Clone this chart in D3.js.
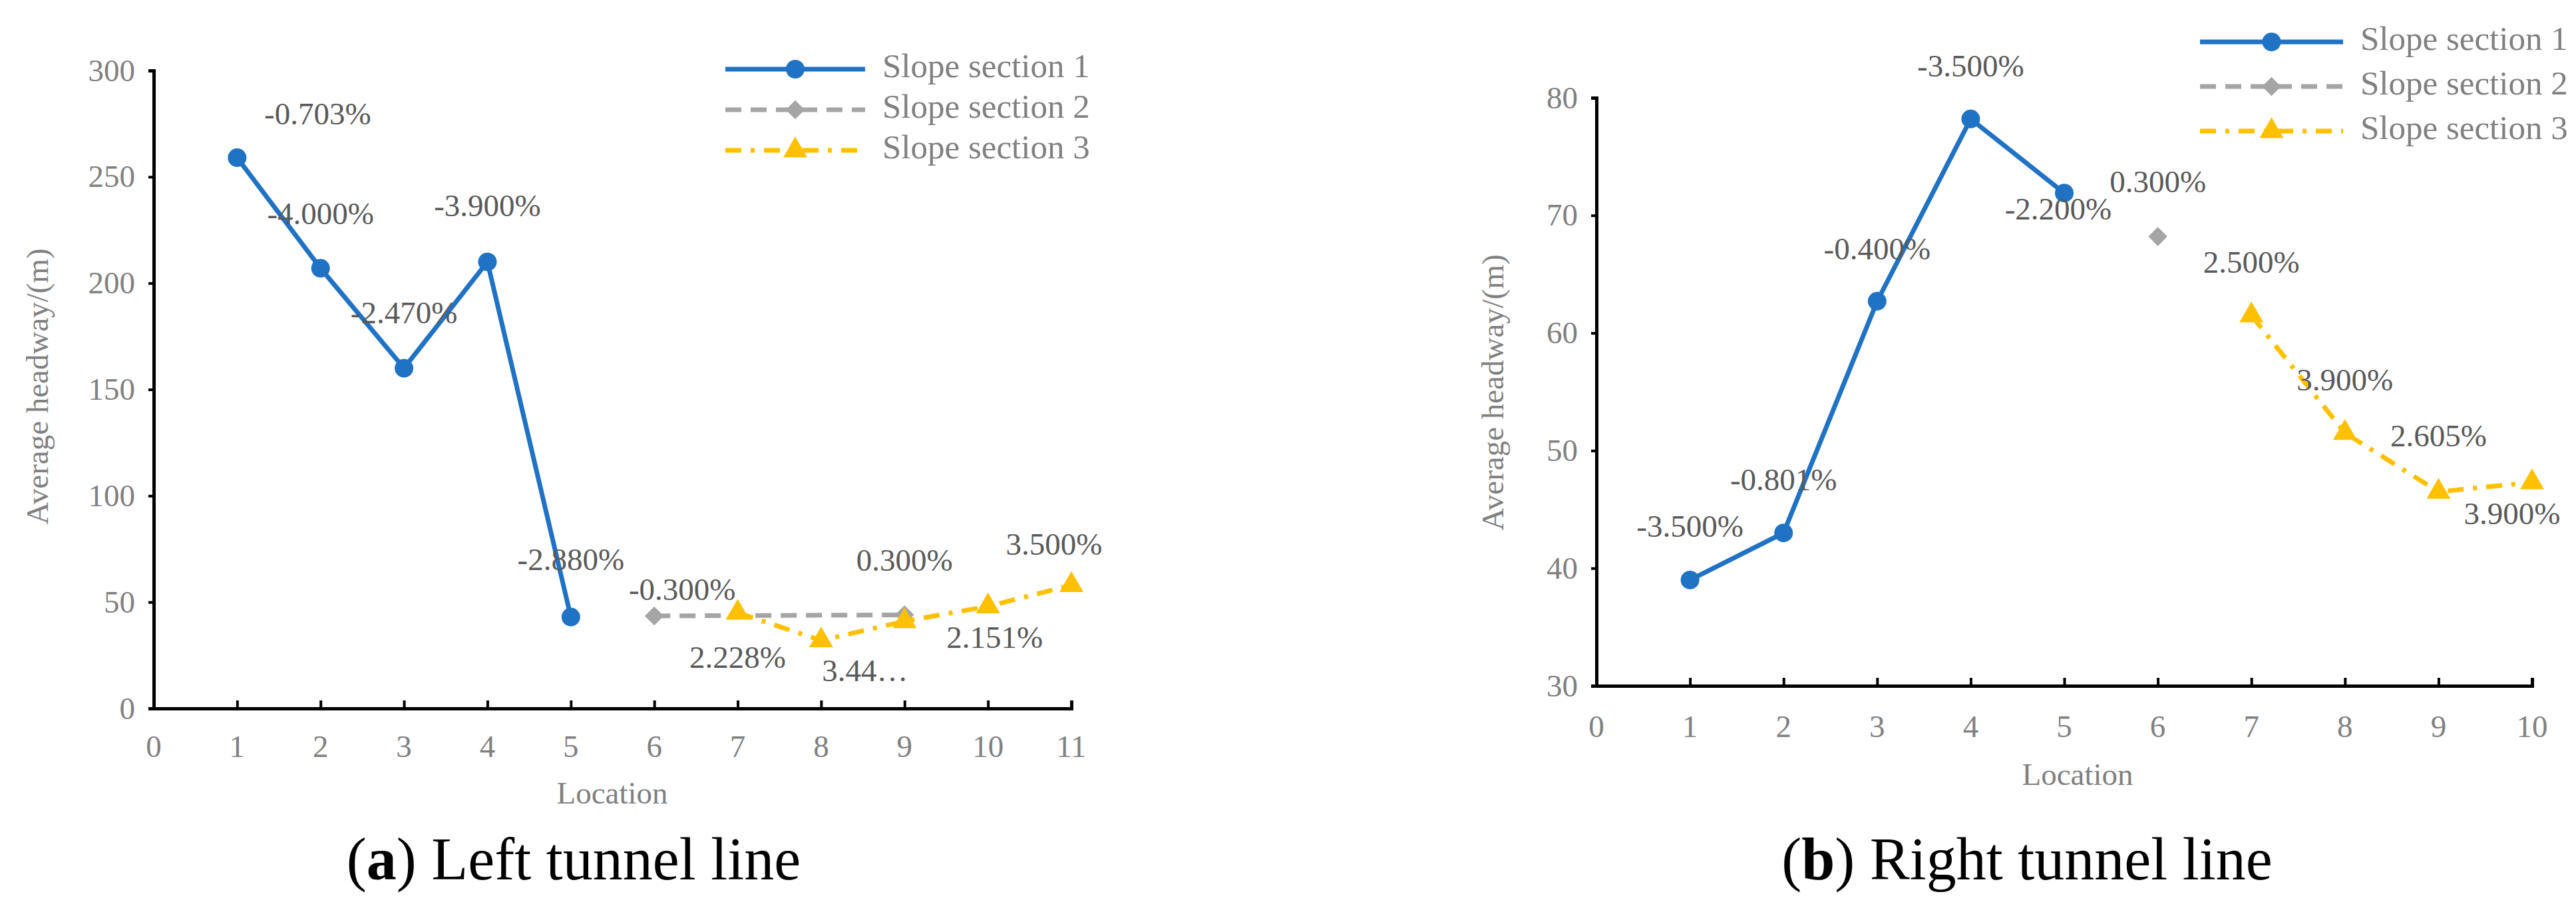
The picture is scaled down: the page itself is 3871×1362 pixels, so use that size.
<!DOCTYPE html>
<html><head><meta charset="utf-8">
<script src="https://cdn.jsdelivr.net/npm/d3@7"></script>
<style>body{margin:0;background:#fff}text{font-family:"Liberation Serif","DejaVu Serif",serif}</style>
</head><body><svg width="3871" height="1362"></svg>
<script>
// Left tunnel line data
const leftS1 = [[1,259],[2,207],[3,160],[4,210],[5,43]];
const leftS2 = [[6,43.5],[9,44]];
const leftS3 = [[7,45],[8,32],[9,41],[10,48],[11,58]];
const leftS1Labels = ["-0.703%","-4.000%","-2.470%","-3.900%","-2.880%"];
const leftS2Labels = ["-0.300%", "0.300%"];
const leftS3Labels = ["2.228%","3.44…","","2.151%","3.500%"];
const leftYTicks = [0,50,100,150,200,250,300];

// Right tunnel line data
const rightS1 = [[1,39],[2,43],[3,62.7],[4,78.2],[5,71.9]];
const rightS2 = [[6,68.2]];
const rightS3 = [[7,61.5],[8,51.5],[9,46.5],[10,47.3]];
const rightS1Labels = ["-3.500%","-0.801%","-0.400%","-3.500%","-2.200%"];
const rightS2Labels = ["0.300%"];
const rightS3Labels = ["2.500%","3.900%","2.605%","3.900%"];
const rightYTicks = [30,40,50,60,70,80];

const legendNames = ["Slope section 1","Slope section 2","Slope section 3"];
const colors = ["#1f72c4","#a5a5a5","#ffc000"];
const dashes = [null,"24,14","24,14,6,14"];
const fs = 47;

const svg = d3.select("svg");
const triangle = d3.symbol().type(d3.symbolTriangle).size(560);
const diamond = d3.symbol().type(d3.symbolDiamond2).size(520);

function marker(g, i, x, y) {
  if (i === 0) g.append("circle").attr("cx", x).attr("cy", y).attr("r", 14).attr("fill", colors[0]);
  else g.append("path").attr("d", (i === 1 ? diamond : triangle)()).attr("transform", `translate(${x},${y})`).attr("fill", colors[i]);
}

function drawPanel(p) {
  const x = d3.scaleLinear().domain([0, p.xMax]).range([p.x0, p.x1]);
  const y = d3.scaleLinear().domain(p.yDomain).range([p.y0, p.y1]);
  const g = svg.append("g");

  const yAxis = g.append("g").attr("transform", `translate(${p.x0},0)`)
    .call(d3.axisLeft(y).tickValues(p.yTicks).tickSize(8).tickPadding(20));
  g.append("g").attr("transform", `translate(0,${p.y0})`)
    .call(d3.axisTop(x).ticks(p.xMax).tickSize(12).tickFormat(""));
  g.selectAll(".domain").attr("stroke", "#000").attr("stroke-width", 5);
  g.selectAll(".tick line").attr("stroke", "#000").attr("stroke-width", 4);
  yAxis.selectAll("text").attr("font-size", fs).attr("fill", "#808080").attr("font-family", "Liberation Serif");
  g.append("g").selectAll("text").data(d3.range(0, p.xMax + 1)).join("text")
    .attr("x", d => x(d)).attr("y", p.xLabelY).attr("text-anchor", "middle")
    .attr("font-size", fs).attr("fill", "#808080").text(d => d);

  g.append("text").attr("x", p.locX).attr("y", p.locY).attr("text-anchor", "middle")
    .attr("font-size", fs).attr("fill", "#808080").text("Location");
  g.append("text").attr("transform", `translate(${p.titleX},${p.titleY}) rotate(-90)`)
    .attr("text-anchor", "middle").attr("font-size", fs).attr("fill", "#808080").text("Average headway/(m)");

  const line = d3.line().x(d => x(d[0])).y(d => y(d[1]));
  p.series.forEach((s, i) => {
    if (s.length > 1) g.append("path").datum(s).attr("d", line).attr("fill", "none")
      .attr("stroke", colors[i]).attr("stroke-width", 7).attr("stroke-dasharray", dashes[i]);
  });
  p.series.forEach((s, i) => s.forEach(d => marker(g, i, x(d[0]), y(d[1]))));

  p.series.forEach((s, i) => s.forEach((d, j) => {
    const off = p.offsets[i][j];
    g.append("text").attr("x", x(d[0]) + off[0]).attr("y", y(d[1]) + off[1])
      .attr("text-anchor", "middle").attr("dominant-baseline", "middle")
      .attr("font-size", fs).attr("fill", "#595959").text(p.labels[i][j]);
  }));

  legendNames.forEach((n, i) => {
    const ly = p.legY + i * p.legGap;
    g.append("line").attr("x1", p.legX0).attr("x2", p.legX1).attr("y1", ly).attr("y2", ly)
      .attr("stroke", colors[i]).attr("stroke-width", 7).attr("stroke-dasharray", dashes[i]);
    marker(g, i, (p.legX0 + p.legX1) / 2, ly);
    g.append("text").attr("x", p.legX1 + 26).attr("y", ly).attr("dominant-baseline", "middle")
      .attr("font-size", fs + 4).attr("fill", "#808080").text(n);
  });

  const cap = g.append("text").attr("x", p.capX).attr("y", p.capY).attr("text-anchor", "middle")
    .attr("font-size", 90).attr("fill", "#000");
  cap.append("tspan").text("(");
  cap.append("tspan").attr("font-weight", "bold").text(p.capLetter);
  cap.append("tspan").text(") " + p.caption);
}

drawPanel({
  xMax: 11, x0: 231, x1: 1610, yDomain: [0, 300], y0: 1065, y1: 106, yTicks: leftYTicks,
  xLabelY: 1138, locX: 920, locY: 1208, titleX: 72, titleY: 581,
  series: [leftS1, leftS2, leftS3],
  labels: [leftS1Labels, leftS2Labels, leftS3Labels],
  offsets: [
    [[121,-61],[0,-77],[0,-78],[0,-79],[0,-81]],
    [[42,-35],[0,-77]],
    [[0,72],[66,51],[0,0],[10,52],[-26,-56]]
  ],
  legX0: 1090, legX1: 1300, legY: 104, legGap: 61,
  capX: 862, capY: 1322, capLetter: "a", caption: "Left tunnel line"
});

drawPanel({
  xMax: 10, x0: 2399, x1: 3805, yDomain: [30, 80], y0: 1031, y1: 147, yTicks: rightYTicks,
  xLabelY: 1108, locX: 3122, locY: 1180, titleX: 2259, titleY: 590,
  series: [rightS1, rightS2, rightS3],
  labels: [rightS1Labels, rightS2Labels, rightS3Labels],
  offsets: [
    [[0,-76],[0,-75],[0,-74],[0,-75],[-9,29]],
    [[0,-77]],
    [[0,-75],[0,-75],[0,-79],[-30,52]]
  ],
  legX0: 3306, legX1: 3521, legY: 63, legGap: 67,
  capX: 3046, capY: 1322, capLetter: "b", caption: "Right tunnel line"
});
</script></body></html>
